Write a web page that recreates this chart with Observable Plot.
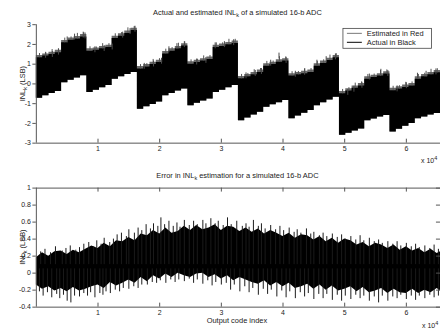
<!DOCTYPE html>
<html><head><meta charset="utf-8">
<script src="https://cdn.jsdelivr.net/npm/d3@7"></script>
<script src="https://cdn.jsdelivr.net/npm/@observablehq/plot@0.6"></script>
<style>
html,body{margin:0;padding:0;background:#fff;}
#wrap{position:relative;width:440px;height:329px;overflow:hidden;background:#fff;font-family:"Liberation Sans",Arial,sans-serif;}
#wrap svg{position:absolute;left:0;overflow:visible;}
</style></head><body><div id="wrap"></div>
<script>
// ---------- data ----------
const blockSize = 1024;            // codes per block (64 blocks of the 16-bit range)
const codeMax = 65536;
const xTickValues = [10000, 20000, 30000, 40000, 50000, 60000];
const xTickLabels = ["1", "2", "3", "4", "5", "6"];
const topYTicks = [-3, -2, -1, 0, 1, 2, 3];
const botYTicks = [-0.4, -0.2, 0, 0.2, 0.4, 0.6, 0.8, 1];

// Top panel: upper/lower envelope of INL per 1024-code block (LSB)
const upperActual = [
  1.33, 1.42, 1.49, 1.58,  2.08, 2.21, 2.28, 2.38,
  1.66, 1.71, 1.78, 1.84,  2.30, 2.42, 2.56, 2.70,
  0.76, 0.86, 0.98, 1.08,  1.52, 1.66, 1.78, 1.92,
  1.00, 1.08, 1.16, 1.24,  1.84, 1.90, 1.98, 2.05,
  0.26, 0.36, 0.46, 0.58,  0.90, 0.98, 1.10, 1.16,
  0.40, 0.46, 0.52, 0.58,  0.90, 1.04, 1.18, 1.32,
  -0.50, -0.36, -0.22, -0.10,  0.24, 0.32, 0.40, 0.50,
  -0.34, -0.26, -0.18, -0.10,  0.24, 0.36, 0.46, 0.56
];
const upperEstimated = [
  1.44, 1.52, 1.60, 1.70,  2.20, 2.32, 2.40, 2.50,
  1.78, 1.82, 1.90, 1.96,  2.42, 2.54, 2.68, 2.82,
  0.88, 0.98, 1.10, 1.20,  1.64, 1.78, 1.90, 2.04,
  1.12, 1.20, 1.28, 1.36,  1.96, 2.02, 2.10, 2.17,
  0.38, 0.48, 0.58, 0.70,  1.02, 1.10, 1.22, 1.28,
  0.52, 0.58, 0.64, 0.70,  1.02, 1.16, 1.30, 1.44,
  -0.38, -0.24, -0.10, 0.02,  0.36, 0.44, 0.52, 0.62,
  -0.22, -0.14, -0.06, 0.02,  0.36, 0.48, 0.58, 0.68
];
const lowerActual = [
  -0.72, -0.60, -0.48, -0.38,  0.06, 0.18, 0.30, 0.42,
  -0.44, -0.32, -0.20, -0.08,  0.24, 0.36, 0.48, 0.58,
  -1.28, -1.16, -1.04, -0.92,  -0.60, -0.48, -0.36, -0.26,
  -1.10, -0.98, -0.86, -0.76,  -0.44, -0.32, -0.20, -0.08,
  -1.86, -1.72, -1.58, -1.44,  -1.18, -1.06, -0.96, -0.84,
  -1.76, -1.62, -1.48, -1.34,  -1.10, -0.96, -0.82, -0.68,
  -2.60, -2.50, -2.38, -2.28,  -1.86, -1.78, -1.68, -1.60,
  -2.44, -2.30, -2.14, -2.00,  -1.76, -1.68, -1.58, -1.50
];
// Top panel: short noise hairs at the middle of each block (tip value, LSB)
const topHairY = [
  1.54, 1.57, 1.74, 1.78,  2.32, 2.38, 2.56, 2.59,
  1.88, 1.87, 2.04, 2.04,  2.54, 2.60, 2.84, 2.91,
  0.98, 1.03, 1.24, 1.28,  1.76, 1.84, 2.06, 2.13,
  1.22, 1.25, 1.42, 1.44,  2.08, 2.08, 2.26, 2.26,
  0.48, 0.53, 0.72, 0.78,  1.14, 1.16, 1.38, 1.37,
  0.62, 0.63, 0.78, 0.78,  1.14, 1.22, 1.46, 1.53,
  -0.28, -0.19, 0.04, 0.10,  0.48, 0.50, 0.68, 0.71,
  -0.12, -0.09, 0.08, 0.10,  0.48, 0.54, 0.74, 0.77
];
// Top panel: taller noise spikes on the upper edge (code, INL)
const topSpikeX = [1500, 2600, 3600, 5000, 6200, 7600, 7900, 9500, 11000, 12300, 14000, 15200, 16000,
  17500, 19000, 20300, 21500, 22800, 24000, 26000, 27500, 29000, 30500, 32000,
  34000, 35500, 36500, 38000, 39350, 40500, 42000, 43500, 45500, 47000, 48500,
  50500, 51500, 52800, 54000, 55870, 57000, 58500, 60000, 61800, 63200, 64800];
const topSpikeY = [1.60, 1.64, 1.76, 2.38, 2.52, 2.62, 2.58, 1.88, 1.94, 2.02, 2.62, 2.80, 2.92,
  1.04, 1.16, 1.30, 1.88, 2.04, 2.14, 1.26, 1.34, 2.08, 2.14, 2.24,
  0.56, 0.68, 0.78, 1.20, 1.56, 1.34, 0.64, 0.74, 1.20, 1.38, 1.52,
  -0.28, -0.12, 0.08, 0.50, 0.74, 0.68, -0.10, 0.06, 0.54, 0.64, 0.76];

// Bottom panel: error envelope every 1000 codes (LSB)
const errUpper = [0.18, 0.24, 0.20, 0.25, 0.26, 0.22, 0.27, 0.24, 0.28, 0.32, 0.29, 0.35, 0.31, 0.38, 0.37, 0.42,
  0.38, 0.46, 0.44, 0.50, 0.46, 0.53, 0.47, 0.49, 0.55, 0.50, 0.56, 0.51, 0.53, 0.57, 0.50, 0.55,
  0.54, 0.49, 0.53, 0.48, 0.52, 0.46, 0.50, 0.47, 0.43, 0.47, 0.41, 0.45, 0.44, 0.39, 0.43, 0.37,
  0.41, 0.35, 0.40, 0.38, 0.33, 0.36, 0.31, 0.35, 0.33, 0.29, 0.33, 0.27, 0.31, 0.26, 0.29, 0.24,
  0.28, 0.23, 0.25];
const errLower = [-0.14, -0.19, -0.16, -0.21, -0.18, -0.22, -0.17, -0.21, -0.19, -0.16, -0.14, -0.18, -0.11, -0.15, -0.12, -0.08,
  -0.12, -0.05, -0.10, -0.03, -0.07, -0.01, -0.05, 0.00, -0.03, -0.05, -0.01, 0.00, -0.05, -0.02, -0.07, -0.03,
  -0.09, -0.05, -0.08, -0.11, -0.13, -0.09, -0.15, -0.11, -0.16, -0.12, -0.18, -0.16, -0.13, -0.19, -0.14, -0.20,
  -0.15, -0.21, -0.19, -0.16, -0.22, -0.17, -0.23, -0.21, -0.18, -0.24, -0.19, -0.23, -0.24, -0.19, -0.24, -0.20,
  -0.23, -0.18, -0.21];
const errSpikeUpX = [700, 1400, 2300, 3100, 4200, 4800, 5500, 6400, 7000, 7700, 8500, 9300, 9800, 10500, 11000, 11900,
  12500, 13100, 13800, 14600, 15000, 15900, 16500, 17100, 17800, 18500, 19000, 19700, 20200, 20800, 21500, 22200,
  22800, 23300, 24000, 24800, 25500, 26100, 27000, 27500, 28300, 29000, 29500, 30300, 31000, 31600, 32500, 33400,
  34000, 34500, 35200, 36000, 36500, 37100, 38000, 38800, 39500, 40100, 41000, 41800, 42300, 42900, 43800, 44500,
  45000, 45900, 46500, 47100, 48000, 48800, 49500, 50100, 51000, 51800, 52500, 53100, 54000, 54800, 55500, 56100,
  57000, 57800, 58500, 59100, 60000, 60800, 61500, 62100, 63000, 63800, 64500, 65200];
const errSpikeUpY = [0.25, 0.28, 0.24, 0.31, 0.26, 0.29, 0.32, 0.27, 0.30, 0.34, 0.36, 0.31, 0.38, 0.34, 0.41, 0.36,
  0.40, 0.45, 0.47, 0.43, 0.51, 0.47, 0.53, 0.50, 0.57, 0.52, 0.58, 0.55, 0.65, 0.57, 0.61, 0.55,
  0.59, 0.54, 0.62, 0.56, 0.61, 0.57, 0.62, 0.58, 0.64, 0.58, 0.61, 0.56, 0.65, 0.57, 0.61, 0.55,
  0.58, 0.54, 0.62, 0.55, 0.58, 0.52, 0.56, 0.51, 0.55, 0.50, 0.53, 0.48, 0.51, 0.47, 0.52, 0.46,
  0.48, 0.44, 0.47, 0.43, 0.46, 0.42, 0.45, 0.40, 0.43, 0.39, 0.44, 0.38, 0.41, 0.37, 0.39, 0.35,
  0.37, 0.34, 0.37, 0.32, 0.35, 0.31, 0.34, 0.30, 0.32, 0.29, 0.33, 0.28];
const errSpikeDownX = [500, 1100, 1800, 2500, 3300, 3800, 4400, 5000, 5600, 6200, 7000, 7700, 8300, 8800, 9500, 10300,
  10800, 11300, 12000, 12800, 13500, 14100, 15000, 15800, 16500, 17100, 18000, 18800, 19500, 20100, 21000, 21800,
  22500, 23100, 24000, 24800, 25500, 26100, 27000, 27800, 28500, 29100, 30000, 30800, 31500, 32100, 33000, 33800,
  34500, 35100, 36000, 36800, 37500, 38100, 39000, 39800, 40500, 41100, 42000, 42800, 43500, 44100, 45000, 45800,
  46500, 47100, 48000, 48800, 49500, 50100, 51000, 51800, 52500, 53100, 54000, 54800, 55500, 56100, 57000, 57800,
  58500, 59100, 60000, 60800, 61500, 62100, 63000, 63800, 64500, 65200];
const errSpikeDownY = [-0.22, -0.27, -0.23, -0.29, -0.25, -0.30, -0.26, -0.33, -0.35, -0.27, -0.28, -0.24, -0.27, -0.23, -0.29, -0.24,
  -0.26, -0.22, -0.24, -0.20, -0.22, -0.18, -0.19, -0.16, -0.18, -0.14, -0.14, -0.11, -0.12, -0.09, -0.12, -0.08,
  -0.11, -0.08, -0.10, -0.07, -0.12, -0.08, -0.13, -0.09, -0.15, -0.11, -0.14, -0.12, -0.20, -0.14, -0.22, -0.16,
  -0.23, -0.18, -0.26, -0.19, -0.25, -0.20, -0.28, -0.21, -0.29, -0.22, -0.30, -0.23, -0.28, -0.24, -0.31, -0.25,
  -0.30, -0.25, -0.32, -0.26, -0.33, -0.27, -0.31, -0.26, -0.30, -0.27, -0.33, -0.28, -0.35, -0.27, -0.33, -0.28,
  -0.30, -0.26, -0.31, -0.27, -0.32, -0.27, -0.30, -0.26, -0.29, -0.27];

// ---------- tables ----------
const topRows = upperActual.map((u, i) => ({x: i * blockSize, ua: u, ue: upperEstimated[i], la: lowerActual[i]}));
topRows.push({...topRows[topRows.length - 1], x: codeMax});
const topHairs = topHairY.map((y, i) => ({x: i * blockSize + blockSize / 2, y, base: upperActual[i]}));
const topSpikes = topSpikeX.map((x, i) => ({x, y: topSpikeY[i]}));
const errRows = errUpper.map((u, i) => ({x: Math.min(i * 1000, codeMax), u, l: errLower[i]}));
errRows[errRows.length - 1].x = codeMax;
const upSpikes = errSpikeUpX.map((x, i) => ({x, y: errSpikeUpY[i]}));
const downSpikes = errSpikeDownX.map((x, i) => ({x, y: errSpikeDownY[i]}));

const axisColor = "#555";
const textColor = "#222";
const fontFamily = "Liberation Sans, Arial, sans-serif";
const xFmt = d => xTickLabels[xTickValues.indexOf(d)];

const topPlot = Plot.plot({
  width: 442, height: 165,
  marginLeft: 36, marginRight: 0, marginTop: 24.3, marginBottom: 21.7,
  x: {domain: [0, codeMax]},
  y: {domain: [-3, 3]},
  style: {fontFamily, fontSize: "7px", color: textColor, background: "transparent"},
  marks: [
    Plot.areaY(topRows, {x: "x", y1: "la", y2: "ue", curve: "step-after", fill: "#6a6a6a"}),
    Plot.areaY(topRows, {x: "x", y1: "la", y2: "ua", curve: "step-after", fill: "#000"}),
    Plot.ruleX(topHairs, {x: "x", y1: "base", y2: "y", stroke: "#555", strokeWidth: 1}),
    Plot.ruleX(topSpikes, {x: "x", y1: d => d.y - 0.3, y2: "y", stroke: "#4a4a4a", strokeWidth: 1}),
    Plot.ruleY([-3], {stroke: axisColor}),
    Plot.ruleX([0], {stroke: axisColor}),
    Plot.ruleX(xTickValues, {y1: -3, y2: -2.8, stroke: axisColor}),
    Plot.axisX({ticks: xTickValues, tickSize: 0, tickPadding: 2.5, tickFormat: xFmt, label: null}),
    Plot.axisY({ticks: topYTicks, tickSize: 3.5, tickPadding: 2, tickFormat: d => String(d), label: null, stroke: axisColor})
  ]
});

const botPlot = Plot.plot({
  width: 442, height: 164,
  marginLeft: 36, marginRight: 0, marginTop: 22.7, marginBottom: 21.7,
  x: {domain: [0, codeMax]},
  y: {domain: [-0.4, 1]},
  style: {fontFamily, fontSize: "7px", color: textColor, background: "transparent"},
  marks: [
    Plot.areaY(errRows, {x: "x", y1: "l", y2: "u", fill: "#000"}),
    Plot.ruleX(upSpikes, {x: "x", y1: 0.1, y2: "y", stroke: "#1a1a1a", strokeWidth: 1}),
    Plot.ruleX(downSpikes, {x: "x", y1: 0.05, y2: "y", stroke: "#1a1a1a", strokeWidth: 1}),
    Plot.ruleY([-0.4], {stroke: axisColor}),
    Plot.ruleY([1], {stroke: axisColor}),
    Plot.ruleX([0], {stroke: axisColor}),
    Plot.ruleX(xTickValues, {y1: -0.4, y2: -0.353, stroke: axisColor}),
    Plot.ruleX(xTickValues, {y1: 1, y2: 0.953, stroke: axisColor}),
    Plot.ruleY(botYTicks, {x1: 64880, x2: codeMax, stroke: axisColor}),
    Plot.axisX({ticks: xTickValues, tickSize: 0, tickPadding: 2.5, tickFormat: xFmt, label: null}),
    Plot.axisY({ticks: botYTicks, tickSize: 3.5, tickPadding: 2, tickFormat: d => String(+d.toFixed(1)), label: null, stroke: axisColor})
  ]
});

const wrap = document.getElementById("wrap");
topPlot.style.top = "0px";
botPlot.style.top = "165px";
wrap.appendChild(topPlot);
wrap.appendChild(botPlot);

// ---------- text annotations ----------
function addText(svg, x, y, parts, opts = {}) {
  const t = d3.select(svg).append("text")
    .attr("x", x).attr("y", y)
    .attr("fill", textColor)
    .attr("font-family", fontFamily)
    .attr("font-size", opts.size || 7.5)
    .attr("text-anchor", opts.anchor || "middle");
  if (opts.rotate) t.attr("transform", `rotate(-90 ${x} ${y})`);
  parts.forEach(p => {
    const s = t.append("tspan").text(p.t);
    if (p.sub) s.attr("font-size", 5.5).attr("dy", 2);
    if (p.after) s.attr("dy", -2);
    if (p.sup) s.attr("font-size", 5.5).attr("dy", -3);
  });
  return t;
}
const titleTop = [{t: "Actual and estimated INL"}, {t: "k", sub: true}, {t: " of a simulated 16-b ADC", after: true}];
const titleBot = [{t: "Error in INL"}, {t: "k", sub: true}, {t: " estimation for a simulated 16-b ADC", after: true}];
const yLab = [{t: "INL"}, {t: "k", sub: true}, {t: " (LSB)", after: true}];

addText(topPlot, 238.5, 15, titleTop);
addText(topPlot, 25.5, 84, yLab, {rotate: true});
addText(topPlot, 423, 163.5, [{t: "x 10"}, {t: "4", sup: true}], {anchor: "start", size: 7});

addText(botPlot, 238.5, 13.5, titleBot);
addText(botPlot, 25.5, 82.5, yLab, {rotate: true});
addText(botPlot, 238, 158.5, [{t: "Output code index"}]);
addText(botPlot, 424, 163.5, [{t: "x 10"}, {t: "4", sup: true}], {anchor: "start", size: 7});

// legend
const legendItems = ["Estimated in Red", "Actual in Black"];
const legendColors = ["#777", "#000"];
const lg = d3.select(topPlot).append("g");
lg.append("rect").attr("x", 344.5).attr("y", 28.5).attr("width", 89).attr("height", 20)
  .attr("fill", "#fff").attr("stroke", "#444").attr("stroke-width", 0.8);
legendItems.forEach((name, i) => {
  const y = 33.5 + i * 9;
  lg.append("line").attr("x1", 348.5).attr("x2", 363.5).attr("y1", y).attr("y2", y)
    .attr("stroke", legendColors[i]).attr("stroke-width", 1);
  lg.append("text").attr("x", 368.5).attr("y", y + 2.6).attr("fill", textColor)
    .attr("text-anchor", "start")
    .attr("font-family", fontFamily).attr("font-size", 7.5).text(name);
});
</script></body></html>
